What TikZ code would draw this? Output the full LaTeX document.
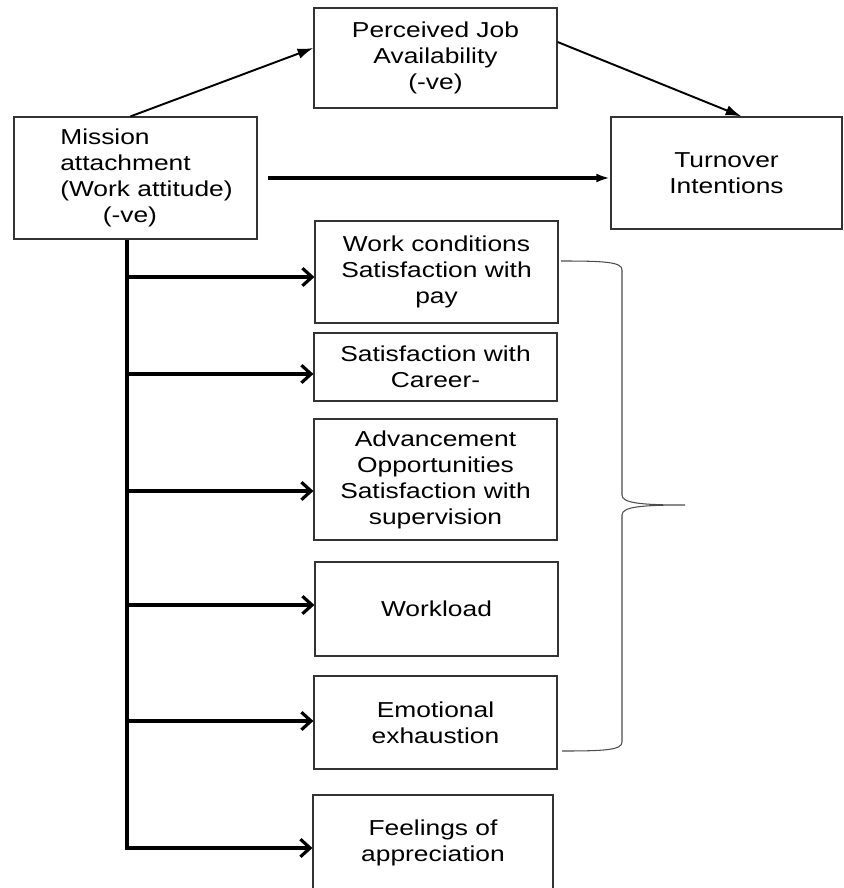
\documentclass[tikz,border=0pt]{standalone}
\usepackage{fontspec}
\setmainfont{Liberation Sans}[FakeStretch=1.22]
\usepackage{tikz}
\usetikzlibrary{arrows.meta,calc,positioning}
\newcommand{\indnt}{\hspace*{0.44cm}}
\tikzset{%
	factor/.style = {draw=black!80, rectangle, line width=0.7pt, minimum width=4.86cm, align=center, inner sep=2pt},
	arrow/.style  = {line width=1.1pt, -{Latex[length=9pt,width=6pt]}},
	branch/.style = {line width=1.8pt, -{Straight Barb[length=5.5pt,width=10pt]}},
	trunk/.style  = {line width=2.4pt},
	brace/.style  = {draw=black!70, line width=0.6pt},
}
\begin{document}
\begin{tikzpicture}[x=0.02cm,y=-0.02cm,font=\fontsize{12.3}{14.8}\selectfont]
	\useasboundingbox (0,0) rectangle (843,888);
	% main boxes
	\node[factor, minimum height=2.0cm]  (perc)    at (435.5,58)  {Perceived Job\\Availability\\(-ve)};
	\node[factor, minimum height=2.44cm, align=left] (mission) at (135.5,178) {\indnt Mission\\\indnt attachment\\\indnt(Work attitude)\\\indnt\hspace*{0.85cm}(-ve)};
	\node[factor, minimum height=2.24cm, minimum width=4.62cm] (turn) at (726.5,173) {Turnover\\Intentions};
	% job factors
	\node[factor, minimum height=2.04cm] (pay)      at (436.5,272)   {Work conditions\\Satisfaction with\\pay};
	\node[factor, minimum height=1.36cm] (career)   at (435.5,367)   {Satisfaction with\\Career-};
	\node[factor, minimum height=2.42cm] (advance)  at (435.5,479.5) {Advancement\\Opportunities\\Satisfaction with\\supervision};
	\node[factor, minimum height=1.88cm] (workload) at (436.5,609)   {Workload};
	\node[factor, minimum height=1.86cm] (exhaust)  at (435.5,722.5) {Emotional\\exhaustion};
	\node[factor, minimum height=1.9cm, minimum width=4.8cm] (apprec) at (433,842.5) {Feelings of\\appreciation};
	% top arrows
	\draw[arrow] ($(mission.north)+(-5,0)$) -- ($(perc.west)+(0,-10)$);
	\draw[arrow] ($(perc.east)+(0,-16)$) -- ($(turn.north)+(15,0)$);
	\draw[arrow, line width=1.8pt, -{Latex[length=8pt,width=5pt]}, shorten <=6pt] (mission.east) -- (mission.east -| turn.west);
	% trunk and branches
	\coordinate (top) at ($(mission.south)+(-8.5,0)$);
	\coordinate (bot) at (127,850);
	\draw[trunk] (top) -- (bot);
	\foreach \name/\yy in {pay/277, career/374, advance/491, workload/605, exhaust/721, apprec/848}
		\draw[branch] (127,\yy) -- (\name.west |- 0,\yy);
	% brace
	\coordinate (btop) at (561,261);
	\coordinate (btip) at (685,505);
	\coordinate (bbot) at (562,751);
	\draw[brace] (btop) .. controls (605,261) and (622,262) .. (622,270) -- (622,495)
		.. controls (622,503) and (640,505) .. (btip)
		.. controls (640,505) and (622,507) .. (622,515) -- (622,742)
		.. controls (622,750) and (605,751) .. (bbot);
\end{tikzpicture}
\end{document}
